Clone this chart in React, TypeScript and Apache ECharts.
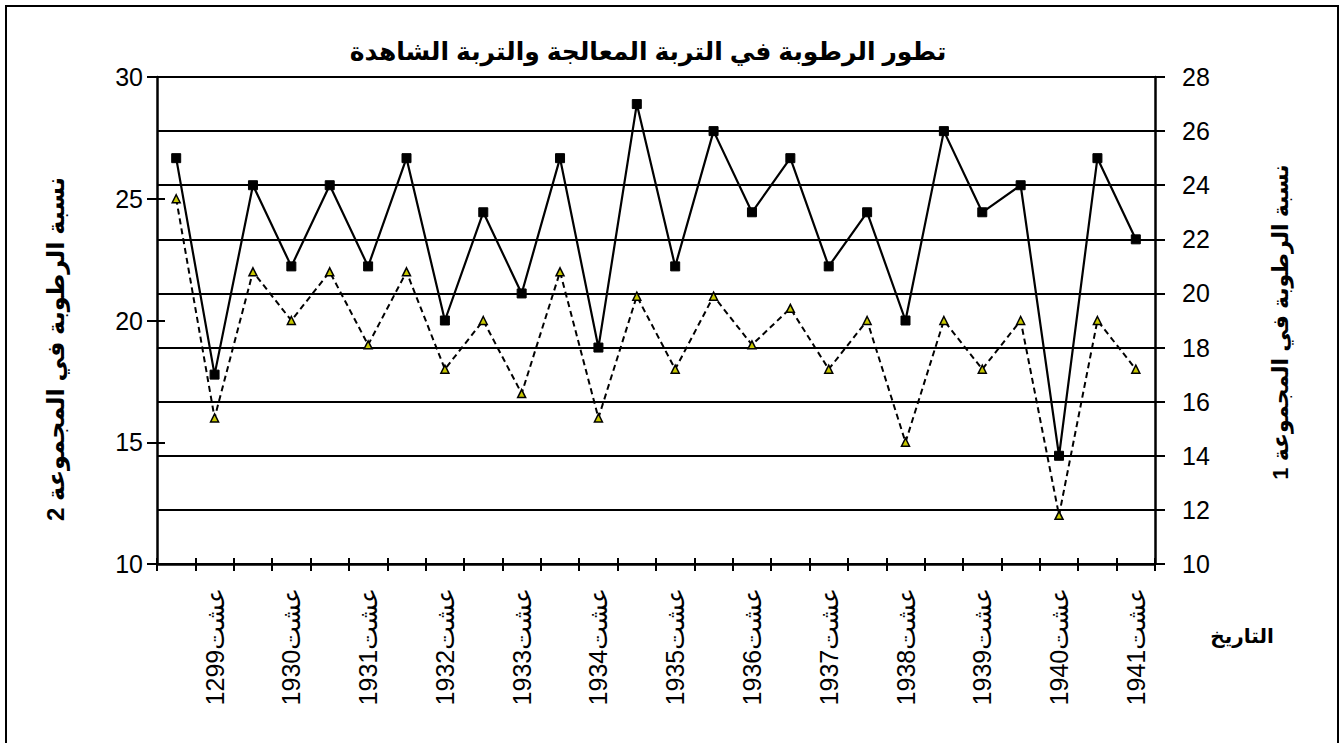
import React, { useEffect, useRef } from "react";
import * as echarts from "echarts";

const titleText = "تطور الرطوبة في التربة المعالجة والتربة الشاهدة";
const leftAxisName = "نسبة الرطوبة في المجموعة 2";
const rightAxisName = "نسبة الرطوبة في المجموعة 1";
const xAxisName = "التاريخ";

const dateLabels = [
  "عشت1299", "عشت1930", "عشت1931", "عشت1932", "عشت1933", "عشت1934", "عشت1935",
  "عشت1936", "عشت1937", "عشت1938", "عشت1939", "عشت1940", "عشت1941",
];

// group 1 (solid line, squares) - right axis
const group1 = [25, 17, 24, 21, 24, 21, 25, 19, 23, 20, 25, 18, 27, 21, 26, 23, 25, 21, 23, 19, 26, 23, 24, 14, 25, 22];
// group 2 (dashed line, triangles) - left axis
const group2 = [25, 16, 22, 20, 22, 19, 22, 18, 20, 17, 22, 16, 21, 18, 21, 19, 20.5, 18, 20, 15, 20, 18, 20, 12, 20, 18];

const FONT = "'Liberation Sans', Arial, 'DejaVu Sans', sans-serif";

export default function App() {
  const ref = useRef<HTMLDivElement>(null);
  useEffect(() => {
    if (!ref.current) return;
    const chart = echarts.init(ref.current, null, { renderer: "svg" });
    const categories: string[] = [];
    dateLabels.forEach((l) => {
      categories.push("");
      categories.push(l);
    });
    const gridLeft = 157;
    const gridRight = 1344 - 1155;
    const gridTop = 77;
    const gridBottom = 743 - 564;

    const baseX = {
      type: "category" as const,
      data: categories,
      boundaryGap: true,
      position: "bottom" as const,
    };

    chart.setOption({
      animation: false,
      backgroundColor: "#ffffff",
      grid: { left: gridLeft, right: gridRight, top: gridTop, bottom: gridBottom, containLabel: false },
      xAxis: [
        {
          ...baseX,
          axisLine: { show: true, lineStyle: { color: "#000", width: 2.5 } },
          axisTick: { show: true, inside: false, length: 7, interval: 0, lineStyle: { color: "#000", width: 2 } },
          axisLabel: {
            interval: (i: number) => i % 2 === 1,
            rotate: 90,
            margin: 24,
            color: "#000",
            fontSize: 25,
            fontFamily: FONT,
          },
          splitLine: { show: false },
        },
        {
          ...baseX,
          axisLine: { show: false },
          axisTick: { show: true, inside: true, length: 6, interval: 0, lineStyle: { color: "#000", width: 2 } },
          axisLabel: { show: false },
          splitLine: { show: false },
        },
      ],
      yAxis: [
        {
          type: "value",
          position: "left",
          min: 10,
          max: 30,
          interval: 5,
          axisLine: { show: true, lineStyle: { color: "#000", width: 2.5 } },
          axisTick: { show: true, inside: false, length: 10, lineStyle: { color: "#000", width: 2 } },
          axisLabel: { color: "#000", fontSize: 25, fontFamily: FONT, margin: 14 },
          splitLine: { show: false },
        },
        {
          type: "value",
          position: "right",
          min: 10,
          max: 28,
          interval: 2,
          axisLine: { show: true, lineStyle: { color: "#000", width: 2.5 } },
          axisTick: { show: true, inside: false, length: 10, lineStyle: { color: "#000", width: 2 } },
          axisLabel: { color: "#000", fontSize: 25, fontFamily: FONT, margin: 27 },
          splitLine: { show: true, lineStyle: { color: "#000", width: 2 } },
        },
        {
          type: "value",
          position: "left",
          min: 10,
          max: 30,
          interval: 5,
          axisLine: { show: false },
          axisTick: { show: true, inside: true, length: 8, lineStyle: { color: "#000", width: 2 } },
          axisLabel: { show: false },
          splitLine: { show: false },
        },
        {
          type: "value",
          position: "right",
          min: 10,
          max: 28,
          interval: 2,
          axisLine: { show: false },
          axisTick: { show: true, inside: true, length: 8, lineStyle: { color: "#000", width: 2 } },
          axisLabel: { show: false },
          splitLine: { show: false },
        },
      ],
      series: [
        {
          name: "المجموعة 2",
          type: "line",
          xAxisIndex: 0,
          yAxisIndex: 0,
          data: group2,
          symbol: "triangle",
          symbolSize: 8,
          lineStyle: { color: "#000", width: 2, type: [6, 4] },
          itemStyle: { color: "#c8c800", borderColor: "#000", borderWidth: 1.5 },
          z: 3,
        },
        {
          name: "المجموعة 1",
          type: "line",
          xAxisIndex: 0,
          yAxisIndex: 1,
          data: group1,
          symbol: "rect",
          symbolSize: 9,
          lineStyle: { color: "#000", width: 2.2 },
          itemStyle: { color: "#000", borderColor: "#000", borderWidth: 1 },
          z: 4,
        },
      ],
      graphic: [
        {
          type: "rect",
          shape: { x: 6, y: 6, width: 1332, height: 760 },
          style: { fill: "none", stroke: "#000", lineWidth: 2 },
          silent: true,
        },
        {
          type: "text",
          x: 648,
          y: 51,
          style: {
            text: titleText,
            fill: "#000",
            font: `bold 25px ${FONT}`,
            align: "center",
            verticalAlign: "middle",
          },
        },
        {
          type: "text",
          x: 55,
          y: 349,
          rotation: Math.PI / 2,
          style: {
            text: leftAxisName,
            fill: "#000",
            font: `bold 24px ${FONT}`,
            align: "center",
            verticalAlign: "middle",
          },
        },
        {
          type: "text",
          x: 1280,
          y: 322,
          rotation: Math.PI / 2,
          style: {
            text: rightAxisName,
            fill: "#000",
            font: `bold 22px ${FONT}`,
            align: "center",
            verticalAlign: "middle",
          },
        },
        {
          type: "text",
          x: 1242,
          y: 636,
          style: {
            text: xAxisName,
            fill: "#000",
            font: `bold 20px ${FONT}`,
            align: "center",
            verticalAlign: "middle",
          },
        },
      ],
    });
    return () => chart.dispose();
  }, []);
  return (
    <div
      ref={ref}
      style={{ position: "fixed", left: 0, top: 0, width: 1344, height: 743, background: "#fff" }}
    />
  );
}
